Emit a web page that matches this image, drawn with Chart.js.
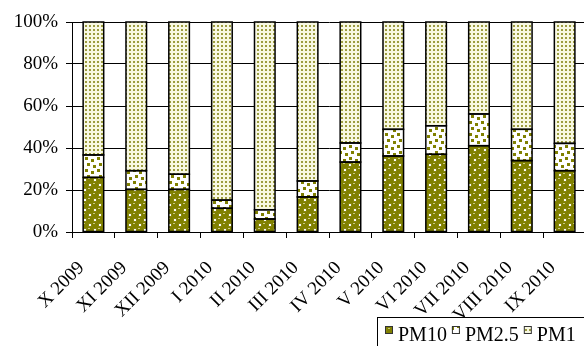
<!DOCTYPE html>
<html>
<head>
<meta charset="utf-8">
<script src="https://cdn.jsdelivr.net/npm/chart.js@4.4.1/dist/chart.umd.min.js"></script>
<style>
  html, body { margin: 0; padding: 0; background: #fff; overflow: hidden; }
  #wrap { width: 600px; height: 346px; }
</style>
</head>
<body>
<div id="wrap"><canvas id="grafico" width="600" height="346"></canvas></div>
<script>
const meses = ['X 2009', 'XI 2009', 'XII 2009', 'I 2010', 'II 2010', 'III 2010',
    'IV 2010', 'V 2010', 'VI 2010', 'VII 2010', 'VIII 2010', 'IX 2010'];
const pm10 = [26.0, 20.3, 20.3, 11.3, 6.2, 16.7, 33.3, 36.2, 37.0, 41.1, 34.0, 29.2];
const pm25 = [10.7, 8.9, 7.2, 3.9, 4.4, 7.6, 9.1, 12.7, 13.6, 15.1, 14.9, 13.0];
const pm1 = [63.3, 70.8, 72.5, 84.8, 89.4, 75.7, 57.6, 51.1, 49.4, 43.8, 51.1, 57.8];
const yTicks = [0, 20, 40, 60, 80, 100];

const oliva = '#808000';
const fonte = '"Liberation Serif", "Times New Roman", serif';

function criarPadrao(w, h, desenhar) {
    const c = document.createElement('canvas');
    c.width = w;
    c.height = h;
    desenhar(c.getContext('2d'));
    return document.getElementById('grafico').getContext('2d').createPattern(c, 'repeat');
}

// esferas
const padraoPM10 = criarPadrao(10, 10, g => {
    g.fillStyle = '#fff';
    g.fillRect(0, 0, 10, 10);
    g.fillStyle = oliva;
    [[5, 5], [0, 0], [10, 0], [0, 10], [10, 10]].forEach(([x, y]) => {
        g.beginPath();
        g.arc(x, y, 4, 0, Math.PI * 2);
        g.fill();
    });
    g.fillStyle = '#c8c880';
    g.fillRect(3, 3, 2, 1);
    g.fillRect(8, 8, 2, 1);
});

// quadrados espalhados
const padraoPM25 = criarPadrao(12, 12, g => {
    g.fillStyle = '#fff';
    g.fillRect(0, 0, 12, 12);
    g.fillStyle = oliva;
    g.fillRect(1, 1, 3, 3);
    g.fillRect(7, 3, 3, 3);
    g.fillRect(3, 7, 3, 3);
    g.fillRect(9, 9, 3, 3);
});

// pontilhado
const padraoPM1 = criarPadrao(4, 4, g => {
    g.fillStyle = '#f8f8e2';
    g.fillRect(0, 0, 4, 4);
    g.fillStyle = '#9c9c40';
    g.fillRect(1, 1, 2, 2);
});

// contorno preto de cada segmento
const contornoBarras = {
    id: 'contornoBarras',
    afterDatasetsDraw(chart) {
        const ctx = chart.ctx;
        ctx.save();
        ctx.strokeStyle = '#000';
        ctx.lineWidth = 1.5;
        chart.data.datasets.forEach((ds, i) => {
            chart.getDatasetMeta(i).data.forEach(bar => {
                const { x, y, base, width } = bar.getProps(['x', 'y', 'base', 'width'], true);
                ctx.strokeRect(x - width / 2, y, width, base - y);
            });
        });
        ctx.restore();
    }
};

const legendaCaixa = {
    id: 'legendaCaixa',
    afterDraw(chart) {
        const ctx = chart.ctx;
        ctx.save();
        ctx.strokeStyle = '#000';
        ctx.lineWidth = 1;
        ctx.strokeRect(377.5, 317.5, 400, 100);
        ctx.font = '20px ' + fonte;
        ctx.textBaseline = 'alphabetic';
        let x = 385;
        chart.data.datasets.forEach(ds => {
            ctx.fillStyle = ds.backgroundColor;
            ctx.fillRect(x, 326, 8, 8);
            ctx.strokeStyle = '#333';
            ctx.strokeRect(x + 0.5, 326.5, 7, 7);
            ctx.fillStyle = '#000';
            ctx.fillText(ds.label, x + 13, 340.5);
            x += 13 + ctx.measureText(ds.label).width + 5;
        });
        ctx.restore();
    }
};

function montarGrafico() {
    const ctx = document.getElementById('grafico').getContext('2d');
    const base = {
        borderWidth: 0,
        inflateAmount: 0,
        barPercentage: 0.48,
        categoryPercentage: 1
    };

    return new Chart(ctx, {
        type: 'bar',
        data: {
            labels: meses,
            datasets: [
                { ...base, label: 'PM10', backgroundColor: padraoPM10, data: pm10 },
                { ...base, label: 'PM2.5', backgroundColor: padraoPM25, data: pm25 },
                { ...base, label: 'PM1', backgroundColor: padraoPM1, data: pm1 }
            ]
        },
        options: {
            responsive: false,
            animation: false,
            devicePixelRatio: 1,
            layout: { padding: { top: 22, right: 6, left: 0, bottom: 0 } },
            plugins: {
                legend: { display: false },
                tooltip: { enabled: false }
            },
            scales: {
                x: {
                    stacked: true,
                    grid: {
                        drawOnChartArea: false,
                        drawTicks: true,
                        tickLength: 6,
                        color: '#000'
                    },
                    border: { color: '#000', width: 1 },
                    ticks: {
                        color: '#000',
                        font: { family: fonte, size: 19 },
                        minRotation: 45,
                        maxRotation: 45,
                        autoSkip: false,
                        padding: 19,
                        labelOffset: -12
                    },
                    afterFit: s => { s.height = 114; }
                },
                y: {
                    stacked: true,
                    min: 0,
                    max: 100,
                    afterBuildTicks: s => { s.ticks = yTicks.map(v => ({ value: v })); },
                    grid: { color: '#000', tickLength: 6 },
                    border: { color: '#000', width: 1 },
                    ticks: {
                        color: '#000',
                        font: { family: fonte, size: 19 },
                        padding: 8,
                        callback: v => v + '%'
                    },
                    afterFit: s => { s.width = 72; }
                }
            }
        },
        plugins: [contornoBarras, legendaCaixa]
    });
}

document.addEventListener('DOMContentLoaded', function () {
    montarGrafico();
});
</script>
</body>
</html>
